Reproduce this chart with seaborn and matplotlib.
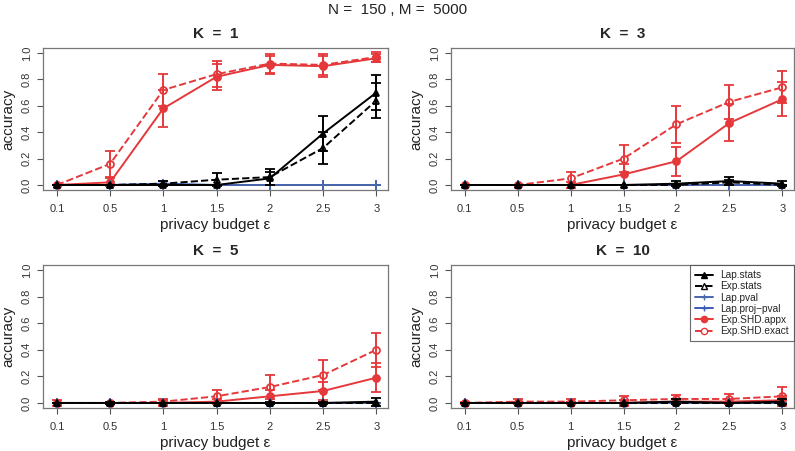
import numpy as np
import pandas as pd
import matplotlib
matplotlib.use("Agg")
import matplotlib.pyplot as plt
import seaborn as sns
from matplotlib.lines import Line2D

sns.set_style("white")
plt.rcParams['font.family'] = ['Liberation Sans', 'DejaVu Sans']

eps_labels = ["0.1", "0.5", "1", "1.5", "2", "2.5", "3"]
panels = ["K  =  1", "K  =  3", "K  =  5", "K  =  10"]
methods = ["Lap.stats", "Exp.stats", "Lap.pval", "Lap.proj\u2212pval", "Exp.SHD.appx", "Exp.SHD.exact"]

# mean accuracy per panel, per method
acc = {
    "K  =  1": {
        "Lap.stats":     [0.00, 0.00, 0.00, 0.00, 0.05, 0.39, 0.70],
        "Exp.stats":     [0.00, 0.00, 0.01, 0.04, 0.06, 0.28, 0.64],
        "Lap.pval":      [0.00, 0.00, 0.00, 0.00, 0.00, 0.00, 0.00],
        "Lap.proj\u2212pval": [0.00, 0.00, 0.01, 0.00, 0.00, 0.00, 0.00],
        "Exp.SHD.appx":  [0.00, 0.02, 0.58, 0.82, 0.91, 0.90, 0.96],
        "Exp.SHD.exact": [0.00, 0.16, 0.72, 0.84, 0.92, 0.91, 0.97],
    },
    "K  =  3": {
        "Lap.stats":     [0.00, 0.00, 0.00, 0.00, 0.01, 0.03, 0.01],
        "Exp.stats":     [0.00, 0.00, 0.00, 0.00, 0.00, 0.02, 0.00],
        "Lap.pval":      [0.00, 0.00, 0.00, 0.00, 0.00, 0.00, 0.00],
        "Lap.proj\u2212pval": [0.00, 0.00, 0.00, 0.00, 0.00, 0.00, 0.00],
        "Exp.SHD.appx":  [0.00, 0.00, 0.00, 0.08, 0.18, 0.47, 0.65],
        "Exp.SHD.exact": [0.00, 0.00, 0.05, 0.20, 0.46, 0.63, 0.74],
    },
    "K  =  5": {
        "Lap.stats":     [0.00, 0.00, 0.00, 0.00, 0.00, 0.00, 0.01],
        "Exp.stats":     [0.00, 0.00, 0.00, 0.00, 0.00, 0.00, 0.00],
        "Lap.pval":      [0.00, 0.00, 0.00, 0.00, 0.00, 0.00, 0.00],
        "Lap.proj\u2212pval": [0.00, 0.00, 0.00, 0.00, 0.00, 0.00, 0.00],
        "Exp.SHD.appx":  [0.00, 0.00, 0.00, 0.01, 0.05, 0.09, 0.19],
        "Exp.SHD.exact": [0.00, 0.00, 0.01, 0.05, 0.12, 0.21, 0.40],
    },
    "K  =  10": {
        "Lap.stats":     [0.00, 0.00, 0.00, 0.00, 0.01, 0.00, 0.01],
        "Exp.stats":     [0.00, 0.00, 0.00, 0.00, 0.00, 0.00, 0.00],
        "Lap.pval":      [0.00, 0.00, 0.00, 0.00, 0.00, 0.00, 0.00],
        "Lap.proj\u2212pval": [0.00, 0.00, 0.00, 0.00, 0.00, 0.00, 0.00],
        "Exp.SHD.appx":  [0.00, 0.00, 0.00, 0.00, 0.01, 0.01, 0.02],
        "Exp.SHD.exact": [0.00, 0.01, 0.01, 0.02, 0.03, 0.03, 0.05],
    },
}

# error bar half-widths
err = {
    "K  =  1": {
        "Lap.stats":     [0.00, 0.00, 0.00, 0.00, 0.05, 0.13, 0.13],
        "Exp.stats":     [0.00, 0.00, 0.02, 0.05, 0.06, 0.12, 0.13],
        "Lap.pval":      [0.00, 0.00, 0.00, 0.00, 0.00, 0.00, 0.00],
        "Lap.proj\u2212pval": [0.00, 0.00, 0.02, 0.00, 0.00, 0.00, 0.00],
        "Exp.SHD.appx":  [0.00, 0.03, 0.14, 0.10, 0.07, 0.08, 0.03],
        "Exp.SHD.exact": [0.00, 0.10, 0.12, 0.10, 0.07, 0.08, 0.04],
    },
    "K  =  3": {
        "Lap.stats":     [0.00, 0.00, 0.00, 0.00, 0.02, 0.03, 0.02],
        "Exp.stats":     [0.00, 0.00, 0.00, 0.00, 0.00, 0.02, 0.00],
        "Lap.pval":      [0.00, 0.00, 0.00, 0.00, 0.00, 0.00, 0.00],
        "Lap.proj\u2212pval": [0.00, 0.00, 0.00, 0.00, 0.00, 0.00, 0.00],
        "Exp.SHD.appx":  [0.00, 0.00, 0.02, 0.08, 0.11, 0.14, 0.13],
        "Exp.SHD.exact": [0.00, 0.00, 0.05, 0.10, 0.14, 0.13, 0.12],
    },
    "K  =  5": {
        "Lap.stats":     [0.00, 0.01, 0.00, 0.00, 0.01, 0.01, 0.03],
        "Exp.stats":     [0.00, 0.00, 0.00, 0.00, 0.00, 0.00, 0.00],
        "Lap.pval":      [0.00, 0.00, 0.00, 0.00, 0.00, 0.00, 0.00],
        "Lap.proj\u2212pval": [0.00, 0.00, 0.00, 0.00, 0.00, 0.00, 0.00],
        "Exp.SHD.appx":  [0.00, 0.00, 0.02, 0.02, 0.05, 0.07, 0.11],
        "Exp.SHD.exact": [0.02, 0.00, 0.02, 0.05, 0.09, 0.11, 0.13],
    },
    "K  =  10": {
        "Lap.stats":     [0.00, 0.00, 0.00, 0.00, 0.02, 0.00, 0.02],
        "Exp.stats":     [0.00, 0.00, 0.00, 0.00, 0.00, 0.00, 0.00],
        "Lap.pval":      [0.00, 0.00, 0.00, 0.00, 0.00, 0.00, 0.00],
        "Lap.proj\u2212pval": [0.00, 0.00, 0.00, 0.00, 0.00, 0.00, 0.00],
        "Exp.SHD.appx":  [0.00, 0.01, 0.01, 0.02, 0.02, 0.02, 0.03],
        "Exp.SHD.exact": [0.01, 0.02, 0.02, 0.03, 0.03, 0.04, 0.07],
    },
}

RED = "#E5383B"
BLUE1 = "#4A66AC"
BLUE2 = "#3A5BB8"
style = {
    "Lap.stats":     dict(color="black", ls="-",  marker="^", mfc="black"),
    "Exp.stats":     dict(color="black", ls="--", marker="^", mfc="white"),
    "Lap.pval":      dict(color=BLUE1,   ls="-",  marker="+", mfc=BLUE1),
    "Lap.proj\u2212pval": dict(color=BLUE2, ls="-", marker="+", mfc=BLUE2),
    "Exp.SHD.appx":  dict(color=RED,     ls="-",  marker="o", mfc=RED),
    "Exp.SHD.exact": dict(color=RED,     ls="--", marker="o", mfc="white"),
}
draw_order = ["Exp.SHD.exact", "Exp.SHD.appx", "Lap.proj\u2212pval", "Lap.pval", "Exp.stats", "Lap.stats"]

W, H = 795, 451
fig = plt.figure(figsize=(W / 100, H / 100), dpi=100)
boxes = [(43, 48, 388, 190), (451, 48, 794, 190), (43, 265, 388, 408), (451, 265, 794, 408)]

x = np.arange(len(eps_labels))
for pname, (l, t, r, b) in zip(panels, boxes):
    ax = fig.add_axes([l / W, 1 - b / H, (r - l) / W, (b - t) / H])
    for m in draw_order:
        st = style[m]
        df = pd.DataFrame({"x": x, "y": acc[pname][m]})
        sns.lineplot(data=df, x="x", y="y", ax=ax, color=st["color"], linestyle=st["ls"],
                     linewidth=1.4, marker=st["marker"], markersize=5 if st["marker"] != "+" else 7,
                     markerfacecolor=st["mfc"], markeredgecolor=st["color"], markeredgewidth=1.3,
                     errorbar=None, legend=False, zorder=3)
        e = np.array(err[pname][m])
        if e.any():
            ax.errorbar(x, acc[pname][m], yerr=e, fmt="none", ecolor=st["color"],
                        elinewidth=1.4, capsize=3.5, capthick=1.3, zorder=3)
    ax.set_xlim(-0.26, 6.22)
    ax.set_ylim(-0.038, 1.038)
    ax.set_xticks(x)
    ax.set_xticklabels(eps_labels)
    ax.set_yticks([0, 0.2, 0.4, 0.6, 0.8, 1.0])
    ax.set_yticklabels(["0.0", "0.2", "0.4", "0.6", "0.8", "1.0"], rotation=90, va="center")
    ax.tick_params(axis="both", direction="out", length=4, width=0.8, color="#555555",
                   labelsize=8, labelcolor="#333333", bottom=True, left=True, pad=4)
    ax.tick_params(axis="x", pad=6)
    for s in ax.spines.values():
        s.set_color("#777777")
        s.set_linewidth(0.9)
    ax.set_xlabel("privacy budget \u03b5", fontsize=11, color="#222222", labelpad=3)
    ax.set_ylabel("accuracy", fontsize=11, color="#222222", labelpad=5)
    ax.set_title(pname, fontsize=11, fontweight="bold", pad=7)
    if pname == "K  =  10":
        handles = [Line2D([0], [0], color=style[m]["color"], ls=style[m]["ls"], lw=1.4,
                          marker=style[m]["marker"], markersize=4.5,
                          markerfacecolor=style[m]["mfc"], markeredgecolor=style[m]["color"])
                   for m in methods]
        leg = ax.legend(handles, methods, loc="upper right", fontsize=7.3, frameon=True,
                        fancybox=False, edgecolor="#444444", borderaxespad=0.0,
                        handlelength=1.8, labelspacing=0.12, borderpad=0.5, handletextpad=0.7)
        leg.get_frame().set_linewidth(0.8)

fig.text(0.5, 1 - 10 / H, "N =  150 , M =  5000", ha="center", va="center", fontsize=11, color="#222222")
fig.savefig("out.png", dpi=100)
